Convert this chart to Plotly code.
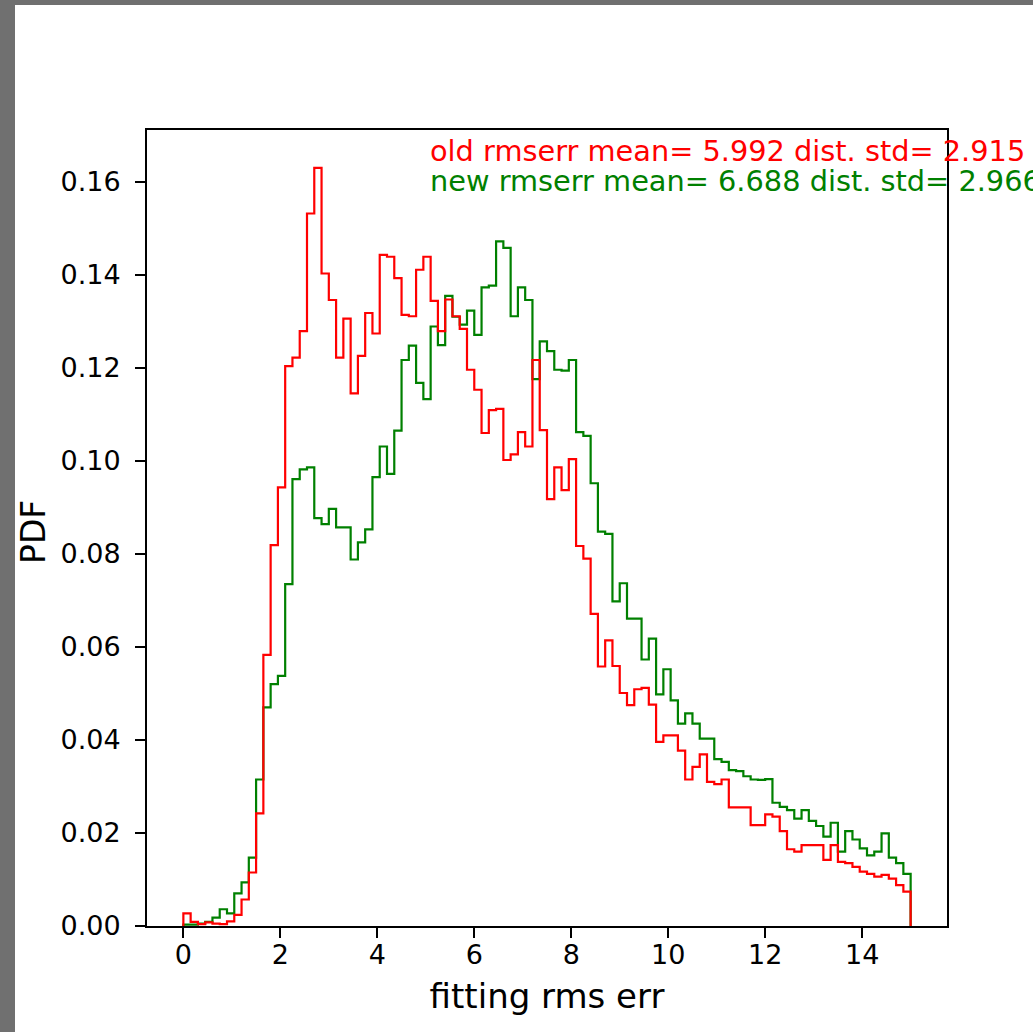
import numpy as np
import plotly.graph_objects as go

# ---------------- data ----------------
bin_lo, bin_hi, n_bins = 0.0, 15.0, 100

old_rmserr_pdf = [
    0.0027, 0.0009, 0.0004, 0.0008, 0.0005, 0.0004, 0.0010, 0.0024, 0.0057, 0.0115,
    0.0242, 0.0583, 0.0819, 0.0943, 0.1204, 0.1222, 0.1279, 0.1532, 0.1630, 0.1403,
    0.1346, 0.1222, 0.1306, 0.1145, 0.1226, 0.1318, 0.1274, 0.1443, 0.1439, 0.1393,
    0.1314, 0.1311, 0.1411, 0.1439, 0.1344, 0.1279, 0.1347, 0.1311, 0.1284, 0.1196,
    0.1153, 0.1060, 0.1109, 0.1112, 0.1002, 0.1014, 0.1062, 0.1031, 0.1217, 0.1066,
    0.0918, 0.0986, 0.0937, 0.1004, 0.0817, 0.0790, 0.0671, 0.0558, 0.0614, 0.0559,
    0.0501, 0.0475, 0.0509, 0.0512, 0.0476, 0.0396, 0.0410, 0.0410, 0.0377, 0.0315,
    0.0342, 0.0369, 0.0310, 0.0305, 0.0315, 0.0255, 0.0255, 0.0255, 0.0217, 0.0217,
    0.0240, 0.0235, 0.0204, 0.0165, 0.0160, 0.0174, 0.0174, 0.0174, 0.0142, 0.0174,
    0.0138, 0.0135, 0.0127, 0.0117, 0.0112, 0.0106, 0.0110, 0.0102, 0.0088, 0.0074,
]

new_rmserr_pdf = [
    0.0003, 0.0003, 0.0005, 0.0009, 0.0018, 0.0036, 0.0027, 0.0070, 0.0094, 0.0147,
    0.0315, 0.0470, 0.0520, 0.0538, 0.0735, 0.0961, 0.0982, 0.0986, 0.0877, 0.0864,
    0.0897, 0.0857, 0.0857, 0.0788, 0.0825, 0.0853, 0.0965, 0.1031, 0.0972, 0.1065,
    0.1217, 0.1248, 0.1168, 0.1133, 0.1289, 0.1249, 0.1355, 0.1310, 0.1293, 0.1323,
    0.1271, 0.1373, 0.1377, 0.1472, 0.1458, 0.1311, 0.1373, 0.1346, 0.1176, 0.1257,
    0.1236, 0.1196, 0.1194, 0.1217, 0.1062, 0.1054, 0.0952, 0.0848, 0.0843, 0.0698,
    0.0737, 0.0661, 0.0661, 0.0573, 0.0618, 0.0498, 0.0552, 0.0485, 0.0435, 0.0457,
    0.0435, 0.0403, 0.0403, 0.0359, 0.0353, 0.0335, 0.0333, 0.0322, 0.0315, 0.0314,
    0.0316, 0.0265, 0.0256, 0.0249, 0.0231, 0.0249, 0.0226, 0.0215, 0.0192, 0.0222,
    0.0160, 0.0204, 0.0186, 0.0167, 0.0152, 0.0160, 0.0199, 0.0147, 0.0135, 0.0112,
]

old_mean, old_std = 5.992, 2.915
new_mean, new_std = 6.688, 2.966

x_tick_vals = [0, 2, 4, 6, 8, 10, 12, 14]
y_tick_vals = [0.00, 0.02, 0.04, 0.06, 0.08, 0.10, 0.12, 0.14, 0.16]
y_tick_text = [f"{v:.2f}" for v in y_tick_vals]

# ---------------- figure ----------------
edges = np.linspace(bin_lo, bin_hi, n_bins + 1)


def step_outline(vals):
    xs = [edges[0]] + list(edges[:-1]) + [edges[-1], edges[-1]]
    ys = [0.0] + list(vals) + [vals[-1], 0.0]
    return xs, ys


fig = go.Figure()
for vals, col in [(new_rmserr_pdf, "#008000"), (old_rmserr_pdf, "#ff0000")]:
    xs, ys = step_outline(vals)
    fig.add_trace(go.Scatter(x=xs, y=ys, mode="lines",
                             line=dict(color=col, width=2.2, shape="hv"),
                             hoverinfo="skip", showlegend=False))

W, H = 1033, 1032
L, R, T, B = 147, 86, 130, 106
pw, ph = W - L - R, H - T - B


def px_x(p):
    return (p - L) / pw


def px_y(p):
    return (H - B - p) / ph


span = bin_hi - bin_lo
x_range = [bin_lo - 0.05 * span, bin_hi + 0.05 * span]
y_max = max(max(old_rmserr_pdf), max(new_rmserr_pdf)) * 1.05

axis_common = dict(
    showline=True, linecolor="black", linewidth=2, mirror=True,
    ticks="outside", ticklen=10, tickwidth=2, tickcolor="black",
    showgrid=False, zeroline=False,
    tickfont=dict(family="DejaVu Sans", size=27, color="black"),
)

fig.update_layout(
    width=W, height=H,
    margin=dict(l=L, r=R, t=T, b=B, autoexpand=False),
    paper_bgcolor="white", plot_bgcolor="white",
    font=dict(family="DejaVu Sans", color="black"),
    xaxis=dict(range=x_range, tickmode="array", tickvals=x_tick_vals,
               ticktext=[str(v) for v in x_tick_vals],
               title=dict(text="fitting rms err", standoff=15,
                          font=dict(family="DejaVu Sans", size=34, color="black")),
               ticklabelstandoff=-6,
               **axis_common),
    yaxis=dict(range=[0, y_max], tickmode="array", tickvals=y_tick_vals,
               ticktext=y_tick_text,
               ticklabelstandoff=9,
               **axis_common),
    annotations=[
        dict(xref="paper", yref="paper", x=px_x(33), y=px_y(532),
             xanchor="center", yanchor="middle", showarrow=False,
             textangle=-90, text="PDF",
             font=dict(family="DejaVu Sans", size=33, color="black")),
        dict(xref="paper", yref="paper", x=px_x(428), y=px_y(151),
             xanchor="left", yanchor="middle", showarrow=False,
             text=f"old rmserr mean= {old_mean:.3f} dist. std= {old_std:.3f}",
             font=dict(family="DejaVu Sans", size=28.8, color="#ff0000")),
        dict(xref="paper", yref="paper", x=px_x(428), y=px_y(181),
             xanchor="left", yanchor="middle", showarrow=False,
             text=f"new rmserr mean= {new_mean:.3f} dist. std= {new_std:.3f}",
             font=dict(family="DejaVu Sans", size=28.8, color="#008000")),
    ],
    shapes=[
        dict(type="rect", xref="paper", yref="paper", layer="above",
             x0=px_x(0), x1=px_x(15), y0=px_y(H), y1=px_y(0),
             fillcolor="#707070", line=dict(width=0)),
        dict(type="rect", xref="paper", yref="paper", layer="above",
             x0=px_x(0), x1=px_x(W), y0=px_y(5), y1=px_y(0),
             fillcolor="#707070", line=dict(width=0)),
    ],
)

fig.write_html("out.html",
               config={"displayModeBar": False},
               post_script="document.body.style.margin='0';"
                           "document.body.style.overflow='hidden';")
